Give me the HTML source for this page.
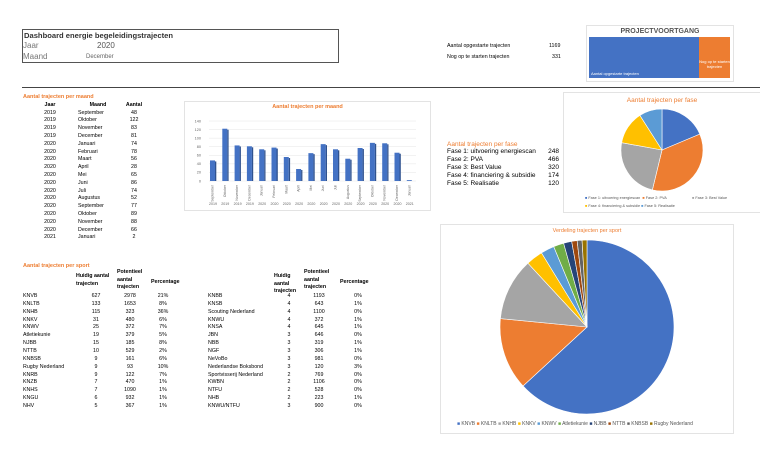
<!DOCTYPE html>
<html><head><meta charset="utf-8"><style>
body{margin:0;width:760px;height:456px;background:#fff;position:relative;overflow:hidden;font-family:"Liberation Sans",sans-serif;color:#000}
.a{position:absolute;white-space:nowrap;line-height:1}
.o{color:#ED7D31;font-weight:bold}
.t{font-size:5.3px}
.c{text-align:center}
.r{text-align:right}
.box{position:absolute;border:1px solid #e3e3e3;background:#fff}
</style></head><body>
<div style="position:absolute;left:22px;top:29px;width:315px;height:32px;border:1px solid #555"></div>
<div class="a" style="left:24px;top:32px;font-size:7.6px;font-weight:bold;color:#333">Dashboard energie begeleidingstrajecten</div>
<div class="a" style="left:23px;top:42px;font-size:8px;color:#777">Jaar</div>
<div class="a" style="left:97px;top:42px;font-size:8px;color:#555">2020</div>
<div class="a" style="left:23px;top:53px;font-size:8px;color:#777">Maand</div>
<div class="a" style="left:86px;top:54px;font-size:6px;color:#666">December</div>
<div style="position:absolute;left:22px;top:87px;width:738px;height:1px;background:#444"></div>

<div class="a t" style="left:447px;top:44px">Aantal opgestarte trajecten</div>
<div class="a t" style="left:549px;top:44px">1169</div>
<div class="a t" style="left:447px;top:55px">Nog op te starten trajecten</div>
<div class="a t" style="left:552px;top:55px">331</div>

<div class="box" style="left:586px;top:25px;width:146px;height:55px"></div>
<div class="a" style="left:586px;top:28px;width:148px;text-align:center;font-size:7px;font-weight:bold;color:#555">PROJECTVOORTGANG</div>
<div style="position:absolute;left:589px;top:37px;width:110px;height:41px;background:#4472C4"></div>
<div style="position:absolute;left:699px;top:37px;width:31px;height:41px;background:#ED7D31"></div>
<div class="a" style="left:591px;top:72px;font-size:4px;color:#fff">Aantal opgestarte trajecten</div>
<div class="a c" style="left:699px;top:59px;width:31px;font-size:4px;color:#fff;line-height:5px;white-space:normal">Nog op te starten trajecten</div>

<div class="a o" style="left:23px;top:95px;font-size:5.5px">Aantal trajecten per maand</div>
<div id="mt"></div>

<div class="box" style="left:184px;top:101px;width:245px;height:108px"></div>
<div class="a o c" style="left:184px;top:105px;width:247px;font-size:5.5px">Aantal trajecten per maand</div>
<svg id="bc" style="position:absolute;left:184px;top:101px" width="247" height="110"></svg>

<div class="a o" style="left:447px;top:142px;font-size:6.5px;font-weight:normal">Aantal trajecten per fase</div>
<div id="ft"></div>

<div class="box" style="left:563px;top:92px;width:196px;height:119px"></div>
<div class="a o c" style="left:563px;top:98px;width:198px;font-size:6.5px;font-weight:normal">Aantal trajecten per fase</div>
<div class="a" style="left:585px;top:197px;font-size:3.8px;color:#555"><span style="color:#4472C4">■</span> Fase 1: uitvoering energiescan &nbsp;<span style="color:#ED7D31">■</span> Fase 2: PVA</div>
<div class="a" style="left:692px;top:197px;font-size:3.8px;color:#555"><span style="color:#A5A5A5">■</span> Fase 3: Best Value</div>
<div class="a" style="left:585px;top:205px;font-size:3.8px;color:#555"><span style="color:#FFC000">■</span> Fase 4: financiering &amp; subsidie <span style="color:#5B9BD5">■</span> Fase 5: Realisatie</div>

<div class="a o" style="left:23px;top:264px;font-size:5.5px">Aantal trajecten per sport</div>
<div id="st"></div>

<div class="box" style="left:440px;top:224px;width:292px;height:208px"></div>
<div class="a o c" style="left:440px;top:229px;width:294px;font-size:5.5px;font-weight:normal">Verdeling trajecten per sport</div>
<div class="a" style="left:457px;top:422px;font-size:5px;color:#555"><span style="color:#4472C4">■</span> KNVB <span style="color:#ED7D31">■</span> KNLTB <span style="color:#A5A5A5">■</span> KNHB <span style="color:#FFC000">■</span> KNKV <span style="color:#5B9BD5">■</span> KNWV <span style="color:#70AD47">■</span> Atletiekunie <span style="color:#264478">■</span> NJBB <span style="color:#9E480E">■</span> NTTB <span style="color:#636363">■</span> KNBSB <span style="color:#997300">■</span> Rugby Nederland</div>
<svg id="fp" style="position:absolute;left:0;top:0;pointer-events:none" width="760" height="456"></svg>

<script>
function add(id,h){document.getElementById(id).insertAdjacentHTML('beforeend',h)}
function T(x,y,s,cls,w,st){return '<div class="a t '+(cls||'')+'" style="left:'+x+'px;top:'+y+'px;'+(w?'width:'+w+'px;':'')+(st||'')+'">'+s+'</div>'}
var M=[[2019,'September',48],[2019,'Oktober',122],[2019,'November',83],[2019,'December',81],[2020,'Januari',74],[2020,'Februari',78],[2020,'Maart',56],[2020,'April',28],[2020,'Mei',65],[2020,'Juni',86],[2020,'Juli',74],[2020,'Augustus',52],[2020,'September',77],[2020,'Oktober',89],[2020,'November',88],[2020,'December',66],[2021,'Januari',2]];
var h=T(40,103,'Jaar','',20,'font-weight:bold;text-align:center')+T(80,103,'Maand','',36,'font-weight:bold;text-align:center')+T(122,103,'Aantal','',24,'font-weight:bold;text-align:center');
M.forEach(function(r,i){var y=110.5+i*7.8;h+=T(40,y,r[0],'c',20)+T(78,y,r[1])+T(122,y,r[2],'c',24)});
add('mt',h);
var s='',x0=25,x1=232,yb=80,yt=20;
for(var v=0;v<=140;v+=20){var y=yb-(v/140)*(yb-yt);s+='<line x1="'+x0+'" x2="'+x1+'" y1="'+y+'" y2="'+y+'" stroke="#e6e6e6" stroke-width="0.5"/><text x="'+(x0-8)+'" y="'+(y+1.3)+'" font-size="3.8" fill="#666" text-anchor="end">'+v+'</text>'}
M.forEach(function(r,i){var cx=28+i*12.3,hh=r[2]/140*(yb-yt);
s+='<rect x="'+(cx-2)+'" y="'+(yb-hh)+'" width="5" height="'+hh+'" fill="#4472C4"/><rect x="'+(cx+3)+'" y="'+(yb-hh+1)+'" width="1.3" height="'+(hh-1)+'" fill="#2F528F"/>';
s+='<text transform="translate('+(cx+1.5)+','+(yb+4)+') rotate(-90)" font-size="3.4" fill="#666" text-anchor="end">'+r[1]+'</text>';
s+='<text x="'+(cx+1)+'" y="'+(yb+24)+'" font-size="3.6" fill="#666" text-anchor="middle">'+r[0]+'</text>'});
document.getElementById('bc').innerHTML=s;
var F=[['Fase 1: uitvoering energiescan',248],['Fase 2: PVA',466],['Fase 3: Best Value',320],['Fase 4: financiering &amp; subsidie',174],['Fase 5: Realisatie',120]];
h='';F.forEach(function(r,i){var y=149+i*8;h+='<div class="a" style="left:447px;top:'+y+'px;font-size:6.5px">'+r[0]+'</div><div class="a r" style="left:540px;width:19px;top:'+y+'px;font-size:6.5px">'+r[1]+'</div>'});add('ft',h);
var C=['#4472C4','#ED7D31','#A5A5A5','#FFC000','#5B9BD5','#70AD47','#264478','#9E480E','#636363','#997300'];
function pie(cx,cy,R,vals){var tot=vals.reduce(function(a,b){return a+b},0),a=0,o='';
vals.forEach(function(v,i){var a2=a+v/tot*2*Math.PI;var p1=[cx+R*Math.sin(a),cy-R*Math.cos(a)],p2=[cx+R*Math.sin(a2),cy-R*Math.cos(a2)];
o+='<path d="M'+cx+','+cy+'L'+p1+'A'+R+','+R+' 0 '+(a2-a>Math.PI?1:0)+' 1 '+p2+'Z" fill="'+C[i%C.length]+'" stroke="#fff" stroke-width="0.6"/>';a=a2});return o}
var S=[['KNVB',627,2978,'21%'],['KNLTB',133,1653,'8%'],['KNHB',115,323,'36%'],['KNKV',31,480,'6%'],['KNWV',25,372,'7%'],['Atletiekunie',19,379,'5%'],['NJBB',15,185,'8%'],['NTTB',10,529,'2%'],['KNBSB',9,161,'6%'],['Rugby Nederland',9,93,'10%'],['KNRB',9,122,'7%'],['KNZB',7,470,'1%'],['KNHS',7,1090,'1%'],['KNGU',6,932,'1%'],['NHV',5,367,'1%']];
var S2=[['KNBB',4,1193,'0%'],['KNSB',4,643,'1%'],['Scouting Nederland',4,1100,'0%'],['KNWU',4,372,'1%'],['KNSA',4,645,'1%'],['JBN',3,646,'0%'],['NBB',3,319,'1%'],['NGF',3,306,'1%'],['NeVoBo',3,981,'0%'],['Nederlandse Boksbond',3,120,'3%'],['Sportvisserij Nederland',2,769,'0%'],['KWBN',2,1106,'0%'],['NTFU',2,528,'0%'],['NHB',2,223,'1%'],['KNWU/NTFU',3,900,'0%']];
var vals=S.slice(0,10).map(function(r){return r[1]});
document.getElementById('fp').innerHTML=pie(662,150,41,[248,466,320,174,120])+pie(587,327,87,vals);
h='';var hb='font-weight:bold;white-space:normal;line-height:7.5px;';
h+=T(76,273,'Huidig aantal trajecten','',36,hb)+T(117,269,'Potentieel aantal trajecten','',28,hb)+T(151,280,'Percentage','',36,'font-weight:bold');
h+=T(274,273,'Huidig aantal trajecten','',24,hb)+T(304,269,'Potentieel aantal trajecten','',28,hb)+T(340,280,'Percentage','',36,'font-weight:bold');
S.forEach(function(r,i){var y=294+i*7.85;h+=T(23,y,r[0])+T(86,y,r[1],'c',20)+T(119,y,r[2],'c',22)+T(153,y,r[3],'c',20)});
S2.forEach(function(r,i){var y=294+i*7.85;h+=T(208,y,r[0])+T(279,y,r[1],'c',20)+T(308,y,r[2],'c',22)+T(348,y,r[3],'c',20)});
add('st',h);
</script>
</body></html>
